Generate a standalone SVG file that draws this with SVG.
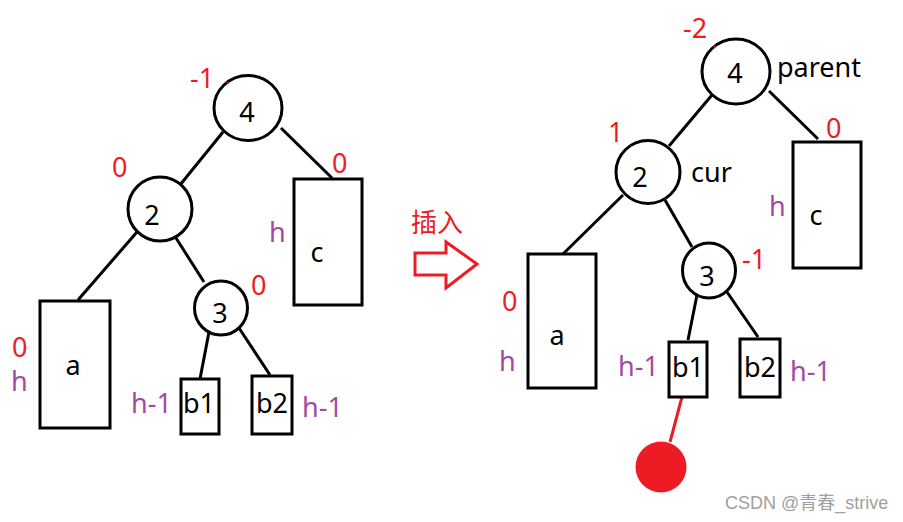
<svg xmlns="http://www.w3.org/2000/svg" width="903" height="522" viewBox="0 0 903 522">
<style>
.n{fill:#fff;stroke:#000;stroke-width:3}
.e{stroke:#000;stroke-width:3;fill:none}
.t{font-family:"Noto Sans","Open Sans","Liberation Sans",sans-serif;font-size:27px;fill:#000}
.m{text-anchor:middle}
.r{fill:#ED1C24}
.p{fill:#A349A4}
</style>
<rect width="903" height="522" fill="#fff"/>
<g id="connectors">
<line class="e" x1="223" y1="132" x2="180" y2="185"/>
<line class="e" x1="281" y1="128" x2="332" y2="178"/>
<line class="e" x1="137" y1="232" x2="78" y2="300"/>
<line class="e" x1="176" y1="238" x2="204" y2="282"/>
<line class="e" x1="209" y1="332" x2="200" y2="379"/>
<line class="e" x1="239" y1="328" x2="270" y2="375"/>
<line class="e" x1="712" y1="95" x2="669" y2="146"/>
<line class="e" x1="769" y1="91" x2="818" y2="139"/>
<line class="e" x1="623" y1="195" x2="563" y2="254"/>
<line class="e" x1="665" y1="200" x2="692" y2="247"/>
<line class="e" x1="697" y1="295" x2="688" y2="340"/>
<line class="e" x1="727" y1="292" x2="758" y2="337"/>
<line x1="682" y1="397" x2="670" y2="442" stroke="#ED1C24" stroke-width="3"/>
</g>
<g id="L4"><ellipse class="n" cx="248" cy="108" rx="34" ry="32.5"/><text class="t m" x="247" y="122">4</text></g>
<g id="L2"><ellipse class="n" cx="160" cy="209" rx="32" ry="32"/><text class="t m" x="152" y="225">2</text></g>
<g id="L3"><ellipse class="n" cx="221" cy="308" rx="26.5" ry="27"/><text class="t m" x="220" y="323">3</text></g>
<g id="Lc"><rect class="n" x="294" y="179" width="68" height="126"/><text class="t m" x="317" y="262">c</text></g>
<g id="La"><rect class="n" x="40" y="301" width="70" height="127"/><text class="t m" x="73" y="375">a</text></g>
<g id="Lb1"><rect class="n" x="181" y="379" width="38" height="55"/><text class="t m" x="199" y="413">b1</text></g>
<g id="Lb2"><rect class="n" x="252" y="376" width="40" height="58"/><text class="t m" x="272" y="413">b2</text></g>
<g id="left-labels">
<text class="t r" x="190" y="88">-1</text>
<circle cx="228" cy="83" r="1.2" fill="#ED1C24"/>
<text class="t r" x="112" y="177">0</text>
<text class="t r" x="332" y="173">0</text>
<text class="t r" x="251" y="295">0</text>
<text class="t r" x="12" y="357">0</text>
<text class="t p" x="269" y="242">h</text>
<text class="t p" x="11" y="391">h</text>
<text class="t p" x="131" y="413">h-1</text>
<text class="t p" x="302" y="417">h-1</text>
</g>
<g id="insert">
<text x="411" y="232" font-family="'Noto Sans CJK SC',sans-serif" font-size="26" fill="#ED1C24">插入</text>
<polygon points="415,253 446,253 446,242 477,264 446,288 446,275 415,275" fill="#fff" stroke="#ED1C24" stroke-width="3"/>
</g>
<g id="R4"><ellipse class="n" cx="736" cy="71.5" rx="34" ry="32.5"/><text class="t m" x="735" y="83">4</text></g>
<g id="R2"><ellipse class="n" cx="648" cy="172" rx="32" ry="31.5"/><text class="t m" x="640" y="187">2</text></g>
<g id="R3"><ellipse class="n" cx="709" cy="270.5" rx="26.5" ry="27.5"/><text class="t m" x="707" y="286">3</text></g>
<g id="Rc"><rect class="n" x="793" y="142" width="68" height="126"/><text class="t m" x="816" y="225">c</text></g>
<g id="Ra"><rect class="n" x="528" y="254" width="68" height="134"/><text class="t m" x="557" y="345">a</text></g>
<g id="Rb1"><rect class="n" x="669" y="342" width="38" height="55"/><text class="t m" x="688" y="377">b1</text></g>
<g id="Rb2"><rect class="n" x="740" y="339" width="40" height="58"/><text class="t m" x="760" y="377">b2</text></g>
<g id="Rnew"><circle cx="661" cy="467" r="25.5" fill="#ED1C24"/></g>
<g id="right-labels">
<text class="t r" x="683" y="38">-2</text>
<circle cx="715" cy="47" r="1.2" fill="#ED1C24"/>
<text class="t" x="777" y="77">parent</text>
<text class="t r" x="608" y="142">1</text>
<text class="t" x="691" y="182">cur</text>
<text class="t r" x="826" y="138">0</text>
<text class="t p" x="769" y="216">h</text>
<text class="t r" x="742" y="269">-1</text>
<text class="t r" x="502" y="311">0</text>
<text class="t p" x="499" y="371">h</text>
<text class="t p" x="618" y="376">h-1</text>
<text class="t p" x="790" y="381">h-1</text>
</g>
<text x="725" y="509" font-family="'Liberation Sans','Noto Sans CJK SC',sans-serif" font-size="18" fill="#a0a0a0">CSDN @青春_strive</text>
</svg>
